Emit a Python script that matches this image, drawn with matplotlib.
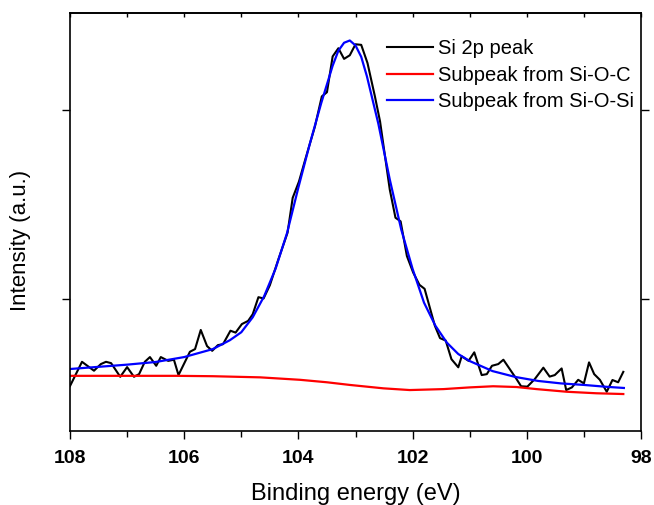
import matplotlib
matplotlib.use("Agg")
import matplotlib.pyplot as plt
from matplotlib.ticker import MultipleLocator, FixedLocator

plt.rcParams['font.family'] = ['Liberation Sans', 'DejaVu Sans']

# Si 2p raw spectrum (binding energy eV, intensity a.u.)
raw_E = [108.0, 107.79, 107.58, 107.46, 107.37, 107.28, 107.12, 107.0, 106.88, 106.79,
         106.69, 106.6, 106.49, 106.41, 106.28, 106.18, 106.1, 105.9, 105.81, 105.71,
         105.6, 105.51, 105.41, 105.32, 105.19, 105.1, 104.99, 104.88, 104.8, 104.7,
         104.61, 104.5, 104.35, 104.19, 104.1, 103.99, 103.88, 103.71, 103.59, 103.5,
         103.4, 103.3, 103.2, 103.1, 103.0, 102.9, 102.79, 102.66, 102.57, 102.5,
         102.4, 102.3, 102.21, 102.1, 101.99, 101.88, 101.79, 101.61, 101.52, 101.42,
         101.32, 101.2, 101.14, 101.02, 100.92, 100.79, 100.7, 100.61, 100.5, 100.41,
         100.18, 100.1, 99.99, 99.86, 99.71, 99.6, 99.51, 99.39, 99.31, 99.21,
         99.1, 99.0, 98.91, 98.82, 98.72, 98.6, 98.5, 98.4, 98.31]
raw_I = [542, 670, 623, 658, 670, 663, 591, 642, 591, 605,
         670, 695, 649, 695, 675, 681, 600, 723, 737, 838,
         753, 728, 758, 763, 834, 824, 869, 886, 921, 1011,
         1004, 1074, 1211, 1351, 1535, 1621, 1737, 1912, 2070, 2092,
         2281, 2324, 2268, 2287, 2345, 2342, 2246, 2070, 1938, 1790,
         1579, 1430, 1411, 1228, 1141, 1076, 1055, 860, 795, 782,
         684, 641, 699, 675, 720, 600, 605, 649, 658, 681,
         579, 541, 539, 579, 639, 592, 600, 635, 521, 535,
         575, 556, 667, 605, 575, 512, 574, 562, 617]

# Fitted subpeak Si-O-Si
sisi_E = [108.0, 107.0, 106.5, 106.0, 105.5, 105.2, 105.0, 104.8, 104.6, 104.4,
          104.2, 104.0, 103.8, 103.6, 103.4, 103.3, 103.2, 103.1, 103.0, 102.9,
          102.8, 102.6, 102.4, 102.2, 102.0, 101.8, 101.6, 101.4, 101.2, 101.0,
          100.6, 100.2, 99.8, 99.4, 99.0, 98.6, 98.3]
sisi_I = [632, 655, 669, 695, 737, 784, 826, 905, 1016, 1161,
          1348, 1590, 1820, 2035, 2232, 2311, 2353, 2365, 2339, 2279,
          2176, 1926, 1632, 1369, 1160, 982, 860, 771, 711, 674,
          621, 590, 569, 556, 548, 538, 532]

# Fitted subpeak Si-O-C
sioc_E = [108.0, 107.0, 106.13, 105.5, 104.67, 103.97, 103.5, 103.1, 102.51, 102.05,
          101.46, 101.0, 100.59, 100.18, 99.83, 99.3, 98.78, 98.31]
sioc_I = [596, 596, 596, 594, 588, 575, 562, 548, 530, 521,
          526, 535, 541, 537, 526, 512, 504, 500]

fig = plt.figure(figsize=(6.54, 5.05), dpi=100)
ax = fig.add_axes([70/654, 1-431/505, 571/654, 418/505])

ax.plot(raw_E, raw_I, color='black', lw=1.5, label='Si 2p peak')
ax.plot(sioc_E, sioc_I, color='#ff0000', lw=1.6, label='Subpeak from Si-O-C')
ax.plot(sisi_E, sisi_I, color='#0000ff', lw=1.6, label='Subpeak from Si-O-Si')

ax.set_xlim(108, 98)
ax.set_ylim(305, 2510)

ax.xaxis.set_major_locator(MultipleLocator(2))
ax.xaxis.set_minor_locator(MultipleLocator(1))
ax.yaxis.set_major_locator(FixedLocator([1000, 2000]))
ax.set_yticklabels([])

ax.tick_params(axis='x', which='major', direction='out', length=6, width=1,
               top=False, labelsize=14, pad=8)
ax.tick_params(axis='x', which='minor', direction='out', length=4, width=1, top=False)
ax.tick_params(axis='y', which='major', direction='out', length=6, width=1,
               right=True, left=True)
for lab in ax.get_xticklabels():
    lab.set_fontweight('bold')

# top axis ticks every 1 eV
top = ax.secondary_xaxis('top')
top.xaxis.set_major_locator(MultipleLocator(1))
top.tick_params(direction='in', length=3, width=1, labeltop=False)
top.spines['top'].set_linewidth(1.2)

for s in ax.spines.values():
    s.set_linewidth(1.2)

ax.set_xlabel('Binding energy (eV)', fontsize=17)
ax.set_ylabel('Intensity (a.u.)', fontsize=16)
ax.xaxis.set_label_coords(0.5, -0.125)
ax.yaxis.set_label_coords(-0.068, 0.457)

leg = ax.legend(loc='upper left', bbox_to_anchor=(0.555, 0.937), frameon=False,
                fontsize=14.5, handlelength=2.3, handletextpad=0.25, labelspacing=0.36,
                borderaxespad=0, borderpad=0)

fig.savefig('out.png', dpi=100)
